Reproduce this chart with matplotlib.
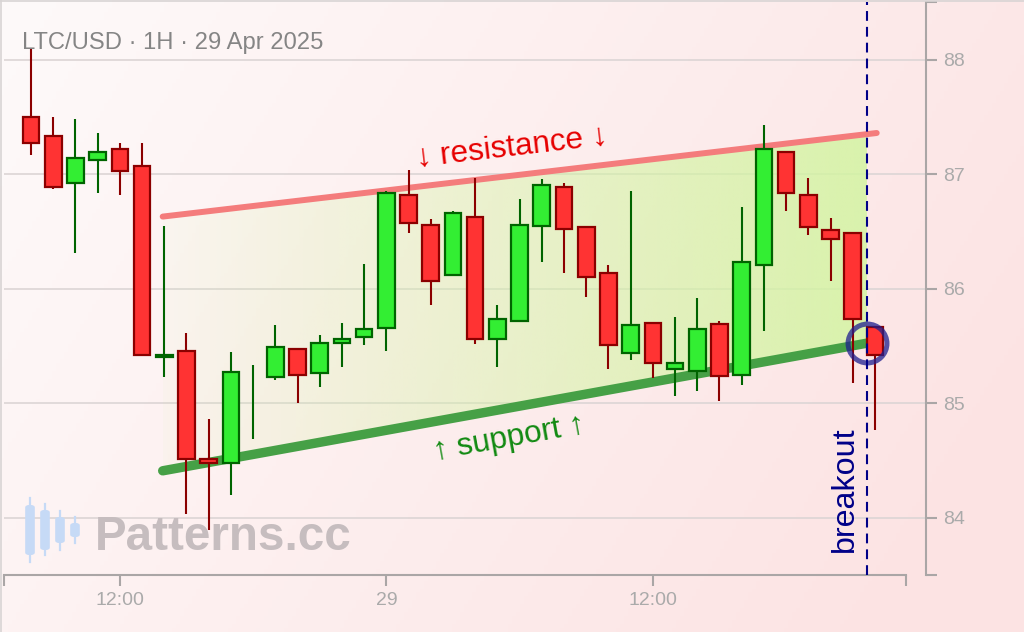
import numpy as np
import matplotlib
matplotlib.use("Agg")
import matplotlib.pyplot as plt
from matplotlib.patches import Rectangle, Polygon, FancyBboxPatch
from matplotlib.lines import Line2D

# ---- hourly LTC/USD candles (28 Apr 08:00 -> 29 Apr 22:00) ----
opens  = [87.50, 87.33, 86.92, 87.12, 87.22, 87.07, 85.40, 85.46, 84.51, 84.48,
          85.00, 85.23, 85.47, 85.26, 85.53, 85.58, 85.66, 86.82, 86.56, 86.12,
          86.63, 85.56, 85.72, 86.55, 86.89, 86.54, 86.14, 85.44, 85.70, 85.30,
          85.28, 85.69, 85.25, 86.21, 87.19, 86.82, 86.51, 86.49, 85.67]
highs  = [88.09, 87.50, 87.48, 87.36, 87.27, 87.27, 86.55, 85.61, 84.86, 85.45,
          85.33, 85.68, 85.47, 85.60, 85.70, 86.22, 86.85, 87.04, 86.61, 86.68,
          86.97, 85.86, 86.78, 86.96, 86.92, 86.54, 86.21, 86.85, 85.70, 85.75,
          85.92, 85.72, 86.71, 87.43, 87.20, 86.97, 86.62, 86.49, 85.67]
lows   = [87.17, 86.87, 86.31, 86.84, 86.82, 85.41, 85.23, 84.03, 83.89, 84.20,
          84.69, 85.20, 85.00, 85.14, 85.32, 85.51, 85.46, 86.49, 85.86, 86.12,
          85.52, 85.32, 85.71, 86.23, 86.14, 85.93, 85.30, 85.38, 85.22, 85.06,
          85.11, 85.02, 85.16, 85.63, 86.68, 86.47, 86.07, 85.18, 84.77]
closes = [87.27, 86.89, 87.14, 87.19, 87.03, 85.42, 85.42, 84.51, 84.48, 85.27,
          85.00, 85.49, 85.25, 85.53, 85.56, 85.65, 86.84, 86.57, 86.07, 86.66,
          85.56, 85.74, 86.56, 86.91, 86.52, 86.10, 85.51, 85.68, 85.35, 85.35,
          85.65, 85.24, 86.23, 87.22, 86.84, 86.54, 86.43, 85.74, 85.42]

x_tick_pos = [4, 16, 28]
x_tick_labels = ["12:00", "29", "12:00"]
y_ticks = [84, 85, 86, 87, 88]

# channel lines (candle index, price)
res_x = [5.93, 38.08]
res_y = [86.63, 87.36]
sup_x = [5.93, 38.08]
sup_y = [84.41, 85.54]
breakout_x = 37.64

W, H, DPI = 1024, 632, 100
fig = plt.figure(figsize=(W / DPI, H / DPI), dpi=DPI)

# ---- soft pink background gradient ----
bg = fig.add_axes([0, 0, 1, 1], zorder=-10)
gx, gy = np.meshgrid(np.linspace(0, 1, 256), np.linspace(0, 1, 160))
t = np.clip(gx * 0.8 + gy * 0.3, 0, 1)
c0 = np.array([254, 250, 250]) / 255
c1 = np.array([252, 227, 227]) / 255
img = c0[None, None, :] * (1 - t[..., None]) + c1[None, None, :] * t[..., None]
bg.imshow(img, extent=[0, 1, 0, 1], aspect="auto", origin="upper")
bg.set_axis_off()
fig.add_artist(Line2D([0.5 / W, 0.5 / W], [0, 1], transform=fig.transFigure,
                      color="#d8d4d4", lw=1.2))
fig.add_artist(Line2D([0, 1], [1 - 0.8 / H, 1 - 0.8 / H], transform=fig.transFigure,
                      color="#d8d4d4", lw=1.2))

ax = fig.add_axes([4 / W, 1 - 575 / H, (926 - 4) / W, (575 - 2) / H])
ax.set_facecolor("none")
xmin, xmax = -1.216, 40.30
ax.set_xlim(xmin, xmax)
ax.set_ylim(83.50, 88.504)

# ---- grid, spines, ticks ----
for v in y_ticks:
    ax.axhline(v, color="#dcd5d5", lw=1.2, zorder=0)
spine_c = "#aaa6a6"
for s in ("left", "top"):
    ax.spines[s].set_visible(False)
ax.spines["bottom"].set_color(spine_c)
ax.spines["right"].set_color(spine_c)
ax.spines["bottom"].set_linewidth(1.5)
ax.spines["right"].set_linewidth(1.5)
x_end = (906 - 31) / 22.21
ax.spines["bottom"].set_bounds(xmin, x_end)
ax.yaxis.tick_right()
ax.set_xticks([xmin] + x_tick_pos + [x_end])
ax.set_xticklabels([""] + x_tick_labels + [""])
ax.set_yticks([83.50] + y_ticks + [88.504])
ax.set_yticklabels([""] + [str(v) for v in y_ticks] + [""])
ax.tick_params(axis="both", colors=spine_c, length=8, width=1.5, pad=4.5,
               labelsize=14, labelcolor="#aaaaaa")
for lab in ax.get_xticklabels() + ax.get_yticklabels():
    lab.set_family("Liberation Sans")

# ---- channel fill with horizontal gradient ----
x0, x1 = res_x[0], breakout_x
def line_at(xs, ys, x):
    return ys[0] + (ys[1] - ys[0]) * (x - xs[0]) / (xs[1] - xs[0])
poly = Polygon([(x0, line_at(sup_x, sup_y, x0)), (x1, line_at(sup_x, sup_y, x1)),
                (x1, line_at(res_x, res_y, x1)), (x0, line_at(res_x, res_y, x0))],
               closed=True, facecolor="none", edgecolor="none")
ax.add_patch(poly)
grad = np.zeros((2, 256, 4))
grad[..., 0] = 210 / 255
grad[..., 1] = 245 / 255
grad[..., 2] = 160 / 255
grad[..., 3] = np.linspace(0.06, 0.83, 256)[None, :]
gimg = ax.imshow(grad, extent=[x0, x1, 83.5, 88.5], aspect="auto",
                 origin="lower", zorder=1, interpolation="bilinear")
gimg.set_clip_path(poly)
ax.set_xlim(xmin, xmax)
ax.set_ylim(83.50, 88.504)

ax.plot(res_x, res_y, color="#f47c7c", lw=4.3, solid_capstyle="round", zorder=2)
ax.plot(sup_x, sup_y, color="#46a046", lw=6.8, solid_capstyle="round", zorder=2)

# ---- candles ----
bw = 0.75
for i, (o, h, l, c) in enumerate(zip(opens, highs, lows, closes)):
    up = c >= o
    fill = "#33ee33" if up else "#ff3333"
    edge = "#006400" if up else "#8b0000"
    ax.plot([i, i], [l, h], color=edge, lw=1.5, zorder=3, solid_capstyle="butt")
    if abs(c - o) > 1e-9:
        ax.add_patch(Rectangle((i - bw / 2, min(o, c)), bw, abs(c - o),
                               facecolor=fill, edgecolor=edge, lw=1.6, zorder=4))

# ---- breakout marker ----
ax.axvline(breakout_x, color="#000088", lw=1.5, ls=(0, (4.7, 2.9)), zorder=6)
ax.plot([breakout_x], [line_at(sup_x, sup_y, breakout_x)], marker="o", ms=28,
        mfc="none", mec="#1f1f8f", mew=3.6, alpha=0.75, zorder=5)

# ---- annotations ----
fig.canvas.draw()
def screen_angle(xs, ys):
    p = ax.transData.transform(np.column_stack([xs, ys]))
    return np.degrees(np.arctan2(p[1, 1] - p[0, 1], p[1, 0] - p[0, 0]))

fam = ["Liberation Sans", "DejaVu Sans"]
rx = 21.66
ax.annotate("↓ resistance ↓", xy=(rx, line_at(res_x, res_y, rx)), xytext=(0, 29),
            textcoords="offset pixels", ha="center", va="center",
            rotation=screen_angle(res_x, res_y), rotation_mode="anchor",
            color="#e60000", fontsize=22.7, family=fam, zorder=7)
sx = 21.52
ax.annotate("↑ support ↑", xy=(sx, line_at(sup_x, sup_y, sx)), xytext=(0, -30),
            textcoords="offset pixels", ha="center", va="center",
            rotation=screen_angle(sup_x, sup_y), rotation_mode="anchor",
            color="#128a12", fontsize=22.7, family=fam, zorder=7)
ax.text(36.65, 83.70, "breakout", rotation=90, ha="center", va="bottom",
        color="#000088", fontsize=23.2, family=fam, zorder=7)

# ---- title ----
fig.text(22 / W, 1 - 49 / H, "LTC/USD · 1H · 29 Apr 2025", ha="left", va="baseline",
         color="#858585", fontsize=17.1, family=fam)

# ---- watermark ----
def px(x, y):
    return x / W, 1 - y / H
icon = [(30, 505, 555, 498, 562), (45, 510, 550, 504, 555),
        (60, 517, 543, 511, 550), (75, 523, 537, 517, 543)]
for cx, bt, bb, wt, wb in icon:
    fig.add_artist(Line2D([cx / W, cx / W], [1 - wb / H, 1 - wt / H],
                          transform=fig.transFigure, color="#c6daf6", lw=1.6))
    x_l, y_b = px(cx - 4.8, bb)
    fig.add_artist(FancyBboxPatch((x_l, y_b), 9.6 / W, (bb - bt) / H,
                                  boxstyle="round,pad=0,rounding_size=0.004",
                                  transform=fig.transFigure, facecolor="#c6daf6",
                                  edgecolor="none"))
fig.text(95 / W, 1 - 550.5 / H, "Patterns.cc", ha="left", va="baseline",
         color="#c6bdbf", fontsize=34.3, fontweight="bold", family=fam)

fig.savefig("out.png", dpi=DPI)
